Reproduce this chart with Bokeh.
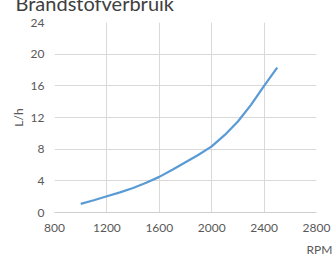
from bokeh.plotting import figure
from bokeh.models import Title, FixedTicker, Range1d
from bokeh.embed import file_html
from bokeh.resources import INLINE

title_text = "Brandstofverbruik"
x_label = "RPM"
y_label = "L/h"
rpm = [1000, 1100, 1200, 1300, 1400, 1500, 1600, 1700, 1800, 1900, 2000, 2100, 2200, 2300, 2400, 2500]
fuel = [1.1, 1.55, 2.05, 2.55, 3.1, 3.75, 4.5, 5.4, 6.35, 7.3, 8.35, 9.8, 11.5, 13.6, 16.0, 18.3]
x_ticks = [800, 1200, 1600, 2000, 2400, 2800]
y_ticks = [0, 4, 8, 12, 16, 20, 24]

FONT = "Lato"
GRAY = "#595959"

p = figure(frame_width=262, frame_height=190, output_backend="svg", toolbar_location=None,
           x_range=Range1d(800, 2800), y_range=Range1d(0, 24),
           min_border_left=54, min_border_right=16, min_border_top=0, min_border_bottom=40,
           margin=(-14, 0, -14, 0), title=title_text)
p.outline_line_color = None
p.background_fill_color = "white"

p.title.align = "left"
p.title.offset = -39
p.title.standoff = 9.5
p.title.vertical_align = "top"
p.title.text_font = FONT
p.title.text_font_size = "20px"
p.title.text_font_style = "normal"
p.title.text_color = "#404040"

p.line(rpm, fuel, line_color="#5b9bd5", line_width=2.25)

p.xaxis.ticker = FixedTicker(ticks=x_ticks)
p.yaxis.ticker = FixedTicker(ticks=y_ticks)
for ax in (p.xaxis[0], p.yaxis[0]):
    ax.major_tick_line_color = None
    ax.minor_tick_line_color = None
    ax.major_tick_out = 0
    ax.major_tick_in = 0
    ax.major_label_text_font = FONT
    ax.major_label_text_font_size = "12px"
    ax.major_label_text_color = GRAY
p.xaxis.axis_line_color = "#cfcfcf"
p.yaxis.axis_line_color = None
p.xaxis.major_label_standoff = 11
p.yaxis.major_label_standoff = 10

p.yaxis.axis_label = y_label
p.yaxis.axis_label_text_font = FONT
p.yaxis.axis_label_text_font_size = "12px"
p.yaxis.axis_label_text_font_style = "normal"
p.yaxis.axis_label_text_color = GRAY
p.yaxis.axis_label_standoff = 2

p.xgrid.grid_line_color = "#d9d9d9"
p.ygrid.grid_line_color = "#d9d9d9"

p.add_layout(Title(text=x_label, align="left", offset=252, vertical_align="bottom", standoff=10,
                   text_font=FONT, text_font_size="12px", text_font_style="normal",
                   text_color=GRAY), "below")

open("out.html", "w").write(file_html(p, INLINE))
